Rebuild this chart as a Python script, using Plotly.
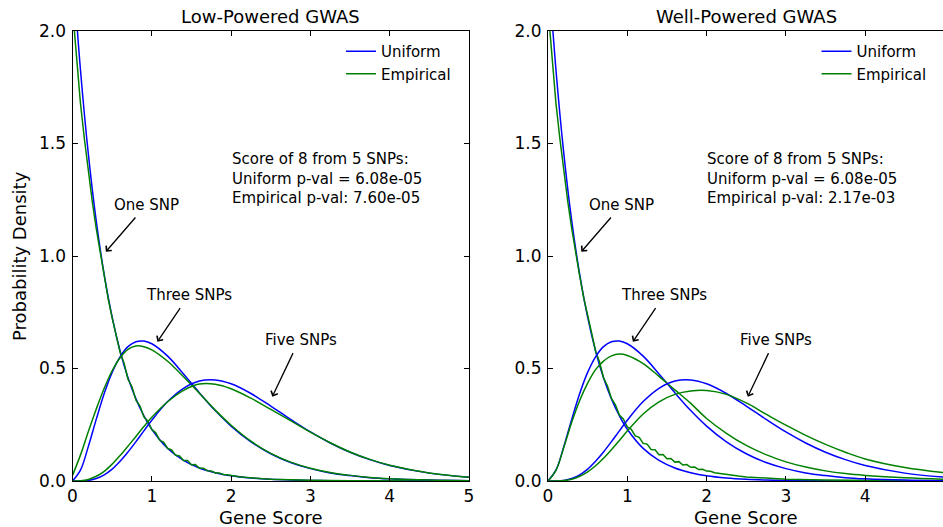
import plotly.graph_objects as go

# ---------------- data ----------------
x_grid = [0, 0.1, 0.2, 0.3, 0.4, 0.5, 0.6, 0.7, 0.8, 0.9, 1.0, 1.2, 1.4, 1.6, 1.8,
          2.0, 2.25, 2.5, 2.75, 3.0, 3.25, 3.5, 3.75, 4.0, 4.5, 5.0]

uniform_one = [2.303, 1.829, 1.453, 1.154, 0.917, 0.728, 0.578, 0.459, 0.365, 0.290, 0.230,
               0.145, 0.092, 0.058, 0.037, 0.023, 0.013, 0.0073, 0.0041, 0.0023, 0.0013,
               0.0007, 0.0004, 0.0002, 0.0001, 0.0]
uniform_three = [0, 0.048, 0.154, 0.275, 0.389, 0.483, 0.552, 0.597, 0.619, 0.622, 0.610,
                 0.555, 0.476, 0.392, 0.313, 0.244, 0.174, 0.121, 0.082, 0.055, 0.036,
                 0.024, 0.015, 0.0098, 0.0039, 0.0015]
uniform_five = [0, 0.0002, 0.0027, 0.011, 0.0275, 0.053, 0.088, 0.129, 0.175, 0.223, 0.270,
                0.353, 0.412, 0.444, 0.449, 0.432, 0.389, 0.333, 0.274, 0.218, 0.169,
                0.128, 0.095, 0.069, 0.035, 0.017]

emp_three_low = [0.025, 0.115, 0.22, 0.32, 0.412, 0.49, 0.548, 0.585, 0.60, 0.597, 0.583,
                 0.532, 0.463, 0.39, 0.315, 0.248, 0.177, 0.123, 0.084, 0.057, 0.038,
                 0.025, 0.016, 0.010, 0.004, 0.0016]
emp_five_low = [0, 0.001, 0.007, 0.021, 0.043, 0.075, 0.113, 0.155, 0.198, 0.242, 0.283,
                0.352, 0.403, 0.431, 0.430, 0.410, 0.368, 0.318, 0.268, 0.217, 0.17,
                0.129, 0.096, 0.07, 0.036, 0.017]
emp_three_high = [0, 0.047, 0.15, 0.262, 0.358, 0.435, 0.495, 0.533, 0.556, 0.564, 0.558,
                  0.522, 0.465, 0.405, 0.345, 0.278, 0.212, 0.158, 0.117, 0.085, 0.062,
                  0.045, 0.033, 0.025, 0.014, 0.008]
emp_five_high = [0, 0.0001, 0.002, 0.008, 0.021, 0.041, 0.068, 0.101, 0.139, 0.18, 0.222,
                 0.298, 0.352, 0.385, 0.40, 0.402, 0.385, 0.347, 0.297, 0.248, 0.203,
                 0.163, 0.128, 0.098, 0.06, 0.037]

x_fine = [0, 0.05, 0.1, 0.15, 0.2, 0.25, 0.3, 0.35, 0.4, 0.45, 0.5, 0.55, 0.6, 0.65, 0.7,
          0.75, 0.8, 0.85, 0.9, 0.95, 1.0, 1.05, 1.1, 1.15, 1.2, 1.25, 1.3, 1.35, 1.4, 1.45,
          1.5, 1.55, 1.6, 1.65, 1.7, 1.75, 1.8, 1.85, 1.9, 1.95, 2.0, 2.05, 2.1, 2.2, 2.3,
          2.4, 2.5, 2.75, 3.0, 3.5, 4.0, 4.5, 5.0]
emp_one_low = [2.10, 1.88, 1.68, 1.52, 1.37, 1.24, 1.12, 1.01, 0.905, 0.81, 0.725, 0.655,
               0.572, 0.524, 0.452, 0.419, 0.359, 0.334, 0.285, 0.266, 0.229, 0.214, 0.181,
               0.172, 0.145, 0.138, 0.114, 0.111, 0.091, 0.091, 0.072, 0.073, 0.057, 0.057,
               0.046, 0.045, 0.036, 0.036, 0.029, 0.028, 0.024, 0.022, 0.019, 0.016, 0.012,
               0.010, 0.008, 0.005, 0.003, 0.0012, 0.0005, 0.0002, 0.0001]
emp_one_high = [2.10, 1.88, 1.68, 1.52, 1.37, 1.24, 1.12, 1.01, 0.91, 0.815, 0.73, 0.658,
                0.577, 0.529, 0.459, 0.422, 0.367, 0.339, 0.293, 0.276, 0.241, 0.23, 0.2,
                0.194, 0.167, 0.164, 0.14, 0.139, 0.117, 0.118, 0.099, 0.1, 0.084, 0.086,
                0.071, 0.073, 0.061, 0.062, 0.051, 0.052, 0.044, 0.043, 0.037, 0.031, 0.026,
                0.022, 0.018, 0.012, 0.008, 0.004, 0.002, 0.001, 0.0005]

panel_titles = ["Low-Powered GWAS", "Well-Powered GWAS"]
pval_text = [["Score of 8 from 5 SNPs:", "Uniform p-val = 6.08e-05", "Empirical p-val: 7.60e-05"],
             ["Score of 8 from 5 SNPs:", "Uniform p-val = 6.08e-05", "Empirical p-val: 2.17e-03"]]
x_ticks = [0, 1, 2, 3, 4, 5]
y_ticks = [0.0, 0.5, 1.0, 1.5, 2.0]

BLUE = "#0000ff"
GREEN = "#008000"
FONT = "DejaVu Sans"
W, H = 943, 527

fig = go.Figure()

panels = [
    dict(xa="x", ya="y", emp1=emp_one_low, emp3=emp_three_low, emp5=emp_five_low, legend="legend"),
    dict(xa="x2", ya="y2", emp1=emp_one_high, emp3=emp_three_high, emp5=emp_five_high, legend="legend2"),
]

for p in panels:
    curves = [
        (x_grid, uniform_one, BLUE, "Uniform", True, "spline"),
        (x_fine, p["emp1"], GREEN, "Empirical", True, "linear"),
        (x_grid, uniform_three, BLUE, "Uniform", False, "spline"),
        (x_grid, p["emp3"], GREEN, "Empirical", False, "spline"),
        (x_grid, uniform_five, BLUE, "Uniform", False, "spline"),
        (x_grid, p["emp5"], GREEN, "Empirical", False, "spline"),
    ]
    for xs, ys, col, name, show, shape in curves:
        fig.add_trace(go.Scatter(
            x=xs, y=ys, mode="lines", name=name, showlegend=show,
            line=dict(color=col, width=1.5, shape=shape),
            xaxis=p["xa"], yaxis=p["ya"], legend=p["legend"], hoverinfo="skip"))

# axes geometry (pixels -> paper)
left_x0, left_x1 = 72.5, 469.0
right_x0 = 548.0
px_per_unit = (left_x1 - left_x0) / 5.0
y_top, y_bot = 31.0, 481.0
right_range_max = (W - right_x0) / px_per_unit

axis_common = dict(showline=True, linecolor="black", linewidth=1, ticks="inside",
                   ticklen=5, tickcolor="black", showgrid=False, zeroline=False,
                   automargin=False,
                   tickfont=dict(family=FONT, size=17, color="black"))

fig.update_layout(
    width=W, height=H, margin=dict(l=0, r=0, t=0, b=0, pad=0, autoexpand=False),
    paper_bgcolor="white", plot_bgcolor="white",
    font=dict(family=FONT, color="black"),
    xaxis=dict(domain=[left_x0 / W, left_x1 / W], range=[0, 5], tickvals=x_ticks,
               mirror="allticks", anchor="y", ticklabelstandoff=0, **axis_common),
    yaxis=dict(domain=[(H - y_bot) / H, (H - y_top) / H], range=[0, 2], tickvals=y_ticks,
               tickformat=".1f", mirror="allticks", anchor="x", ticklabelstandoff=2, **axis_common),
    xaxis2=dict(domain=[right_x0 / W, 1.0], range=[0, right_range_max], tickvals=x_ticks,
                mirror="allticks", anchor="y2", ticklabelstandoff=0, **axis_common),
    yaxis2=dict(domain=[(H - y_bot) / H, (H - y_top) / H], range=[0, 2], tickvals=y_ticks,
                tickformat=".1f", mirror=False, anchor="x2", ticklabelstandoff=2, **axis_common),
    legend=dict(x=341 / W, y=(H - 35) / H, xanchor="left", yanchor="top",
                bgcolor="rgba(0,0,0,0)", font=dict(family=FONT, size=15), itemwidth=30),
    legend2=dict(x=(341 + right_x0 - left_x0) / W, y=(H - 35) / H, xanchor="left", yanchor="top",
                 bgcolor="rgba(0,0,0,0)", font=dict(family=FONT, size=15), itemwidth=30),
)

annotations = []
# titles and axis labels
for i, (x0, title) in enumerate(zip([left_x0, right_x0], panel_titles)):
    cx = (x0 + x0 + 5 * px_per_unit) / 2
    annotations.append(dict(xref="paper", yref="paper", x=cx / W, y=(H - 17) / H, text=title,
                            showarrow=False, xanchor="center", yanchor="middle",
                            font=dict(family=FONT, size=18)))
    annotations.append(dict(xref="paper", yref="paper", x=cx / W, y=(H - 517) / H, text="Gene Score",
                            showarrow=False, xanchor="center", yanchor="middle", borderpad=0,
                            font=dict(family=FONT, size=18)))
annotations.append(dict(xref="paper", yref="paper", x=20 / W, y=(H - 256) / H, text="Probability Density",
                        showarrow=False, textangle=-90, xanchor="center", yanchor="middle",
                        font=dict(family=FONT, size=18)))

labels = [("One SNP", 0.497, 1.227, 0.81, 1.178, 0.42, 1.019),
          ("Three SNPs", 0.90, 0.827, 1.37, 0.775, 1.07, 0.619),
          ("Five SNPs", 2.40, 0.627, 2.79, 0.575, 2.52, 0.375)]
for (xa, ya), lines in zip([("x", "y"), ("x2", "y2")], pval_text):
    for text, tx, ty, ax, ay, hx, hy in labels:
        annotations.append(dict(xref=xa, yref=ya, x=tx, y=ty, text=text, showarrow=False,
                                xanchor="left", yanchor="middle", font=dict(family=FONT, size=15)))
        annotations.append(dict(xref=xa, yref=ya, x=hx, y=hy, ax=ax, ay=ay, axref=xa, ayref=ya,
                                text="", showarrow=True, arrowhead=4, arrowsize=1.1,
                                arrowwidth=1.3, arrowcolor="black"))
    annotations.append(dict(xref=xa, yref=ya, x=1.98, y=1.345, text="<br>".join(lines),
                            showarrow=False, xanchor="left", yanchor="middle", align="left",
                            font=dict(family=FONT, size=15)))

fig.update_layout(annotations=annotations)
fig.write_html("out.html")
